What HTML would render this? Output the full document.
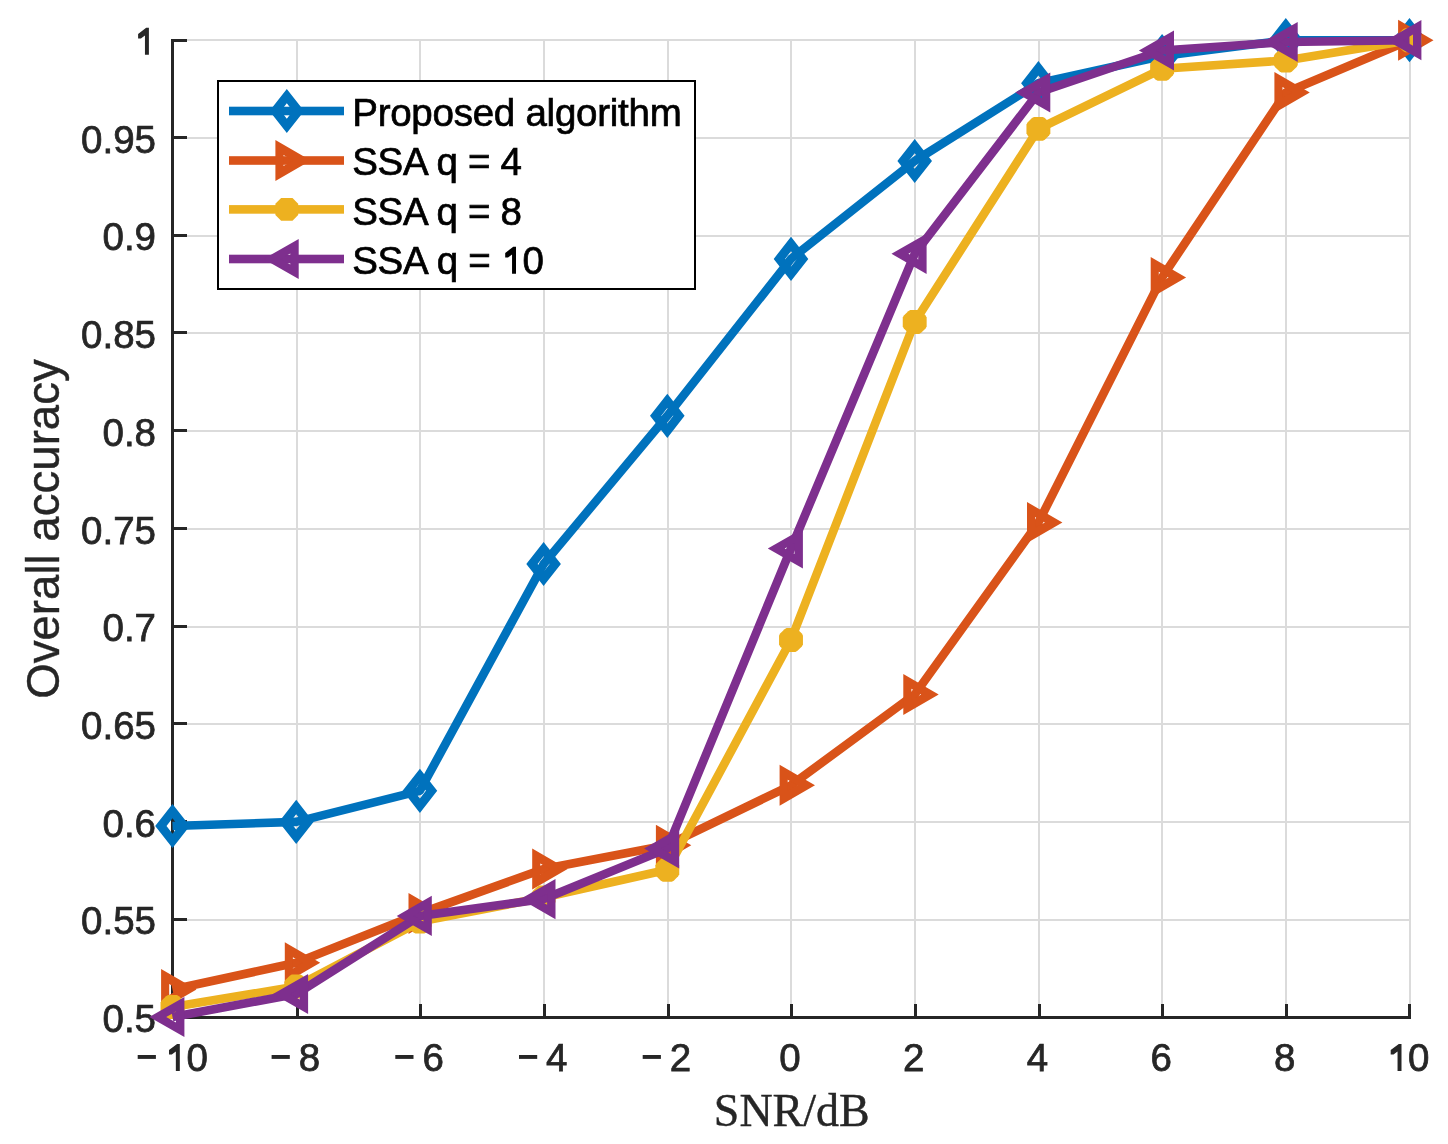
<!DOCTYPE html>
<html><head><meta charset="utf-8"><title>Overall accuracy vs SNR</title>
<style>
html,body{margin:0;padding:0;background:#fff;}
body{width:1448px;height:1144px;overflow:hidden;font-family:"Liberation Sans",sans-serif;}
svg{display:block;will-change:transform;}
</style></head><body>
<svg width="1448" height="1144" viewBox="0 0 1448 1144"><rect x="0" y="0" width="1448" height="1144" fill="#ffffff"/>
<rect x="296" y="39" width="2" height="965" fill="#dbdbdb"/>
<rect x="419" y="39" width="2" height="965" fill="#dbdbdb"/>
<rect x="543" y="39" width="2" height="965" fill="#dbdbdb"/>
<rect x="667" y="39" width="2" height="965" fill="#dbdbdb"/>
<rect x="790" y="39" width="2" height="965" fill="#dbdbdb"/>
<rect x="914" y="39" width="2" height="965" fill="#dbdbdb"/>
<rect x="1038" y="39" width="2" height="965" fill="#dbdbdb"/>
<rect x="1161" y="39" width="2" height="965" fill="#dbdbdb"/>
<rect x="1285" y="39" width="2" height="965" fill="#dbdbdb"/>
<rect x="1409" y="39" width="2" height="965" fill="#dbdbdb"/>
<rect x="174" y="919" width="1237" height="2" fill="#dbdbdb"/>
<rect x="174" y="821" width="1237" height="2" fill="#dbdbdb"/>
<rect x="174" y="723" width="1237" height="2" fill="#dbdbdb"/>
<rect x="174" y="626" width="1237" height="2" fill="#dbdbdb"/>
<rect x="174" y="528" width="1237" height="2" fill="#dbdbdb"/>
<rect x="174" y="430" width="1237" height="2" fill="#dbdbdb"/>
<rect x="174" y="332" width="1237" height="2" fill="#dbdbdb"/>
<rect x="174" y="235" width="1237" height="2" fill="#dbdbdb"/>
<rect x="174" y="137" width="1237" height="2" fill="#dbdbdb"/>
<rect x="174" y="39" width="1237" height="2" fill="#dbdbdb"/>
<rect x="171" y="39" width="3" height="980" fill="#262626"/>
<rect x="171" y="1016" width="1240" height="3" fill="#262626"/>
<rect x="171" y="918" width="16" height="3" fill="#262626"/>
<rect x="171" y="820" width="16" height="3" fill="#262626"/>
<rect x="171" y="722" width="16" height="3" fill="#262626"/>
<rect x="171" y="625" width="16" height="3" fill="#262626"/>
<rect x="171" y="527" width="16" height="3" fill="#262626"/>
<rect x="171" y="429" width="16" height="3" fill="#262626"/>
<rect x="171" y="331" width="16" height="3" fill="#262626"/>
<rect x="171" y="234" width="16" height="3" fill="#262626"/>
<rect x="171" y="136" width="16" height="3" fill="#262626"/>
<rect x="171" y="39" width="16" height="3" fill="#262626"/>
<rect x="296" y="1004" width="3" height="15" fill="#262626"/>
<rect x="419" y="1004" width="3" height="15" fill="#262626"/>
<rect x="543" y="1004" width="3" height="15" fill="#262626"/>
<rect x="667" y="1004" width="3" height="15" fill="#262626"/>
<rect x="790" y="1004" width="3" height="15" fill="#262626"/>
<rect x="914" y="1004" width="3" height="15" fill="#262626"/>
<rect x="1038" y="1004" width="3" height="15" fill="#262626"/>
<rect x="1161" y="1004" width="3" height="15" fill="#262626"/>
<rect x="1285" y="1004" width="3" height="15" fill="#262626"/>
<rect x="1408" y="1004" width="3" height="15" fill="#262626"/>
<text x="156" y="1032" text-anchor="end" font-family="'Liberation Sans', sans-serif" font-size="38.5" fill="#262626" stroke="#262626" stroke-width="0.75">0.5</text>
<text x="156" y="934.3" text-anchor="end" font-family="'Liberation Sans', sans-serif" font-size="38.5" fill="#262626" stroke="#262626" stroke-width="0.75">0.55</text>
<text x="156" y="836.6" text-anchor="end" font-family="'Liberation Sans', sans-serif" font-size="38.5" fill="#262626" stroke="#262626" stroke-width="0.75">0.6</text>
<text x="156" y="738.9" text-anchor="end" font-family="'Liberation Sans', sans-serif" font-size="38.5" fill="#262626" stroke="#262626" stroke-width="0.75">0.65</text>
<text x="156" y="641.2" text-anchor="end" font-family="'Liberation Sans', sans-serif" font-size="38.5" fill="#262626" stroke="#262626" stroke-width="0.75">0.7</text>
<text x="156" y="543.5" text-anchor="end" font-family="'Liberation Sans', sans-serif" font-size="38.5" fill="#262626" stroke="#262626" stroke-width="0.75">0.75</text>
<text x="156" y="445.8" text-anchor="end" font-family="'Liberation Sans', sans-serif" font-size="38.5" fill="#262626" stroke="#262626" stroke-width="0.75">0.8</text>
<text x="156" y="348.1" text-anchor="end" font-family="'Liberation Sans', sans-serif" font-size="38.5" fill="#262626" stroke="#262626" stroke-width="0.75">0.85</text>
<text x="156" y="250.4" text-anchor="end" font-family="'Liberation Sans', sans-serif" font-size="38.5" fill="#262626" stroke="#262626" stroke-width="0.75">0.9</text>
<text x="156" y="152.7" text-anchor="end" font-family="'Liberation Sans', sans-serif" font-size="38.5" fill="#262626" stroke="#262626" stroke-width="0.75">0.95</text>
<path d="M148.9,54.8L148.9,27.8L146.2,27.8L138.1,33.9L138.1,38.4L140.9,38.4L144.95,35.4L144.95,54.8Z" fill="#262626"/>
<rect x="137.7" y="1055.0" width="18.2" height="3.9" fill="#262626"/>
<path d="M179.8,1070.9L179.8,1043.9L177.1,1043.9L169,1050L169,1054.5L171.8,1054.5L175.85,1051.5L175.85,1070.9Z" fill="#262626"/>
<text x="186.4" y="1070.7" text-anchor="start" font-family="'Liberation Sans', sans-serif" font-size="38.5" fill="#262626" stroke="#262626" stroke-width="0.75">0</text>
<rect x="271.6" y="1055.0" width="18.2" height="3.9" fill="#262626"/>
<text x="309.4" y="1070.7" text-anchor="middle" font-family="'Liberation Sans', sans-serif" font-size="38.5" fill="#262626" stroke="#262626" stroke-width="0.75">8</text>
<rect x="395.3" y="1055.0" width="18.2" height="3.9" fill="#262626"/>
<text x="433.1" y="1070.7" text-anchor="middle" font-family="'Liberation Sans', sans-serif" font-size="38.5" fill="#262626" stroke="#262626" stroke-width="0.75">6</text>
<rect x="519" y="1055.0" width="18.2" height="3.9" fill="#262626"/>
<text x="556.8" y="1070.7" text-anchor="middle" font-family="'Liberation Sans', sans-serif" font-size="38.5" fill="#262626" stroke="#262626" stroke-width="0.75">4</text>
<rect x="642.7" y="1055.0" width="18.2" height="3.9" fill="#262626"/>
<text x="680.5" y="1070.7" text-anchor="middle" font-family="'Liberation Sans', sans-serif" font-size="38.5" fill="#262626" stroke="#262626" stroke-width="0.75">2</text>
<text x="790" y="1070.7" text-anchor="middle" font-family="'Liberation Sans', sans-serif" font-size="38.5" fill="#262626" stroke="#262626" stroke-width="0.75">0</text>
<text x="913.7" y="1070.7" text-anchor="middle" font-family="'Liberation Sans', sans-serif" font-size="38.5" fill="#262626" stroke="#262626" stroke-width="0.75">2</text>
<text x="1037.4" y="1070.7" text-anchor="middle" font-family="'Liberation Sans', sans-serif" font-size="38.5" fill="#262626" stroke="#262626" stroke-width="0.75">4</text>
<text x="1161.1" y="1070.7" text-anchor="middle" font-family="'Liberation Sans', sans-serif" font-size="38.5" fill="#262626" stroke="#262626" stroke-width="0.75">6</text>
<text x="1284.8" y="1070.7" text-anchor="middle" font-family="'Liberation Sans', sans-serif" font-size="38.5" fill="#262626" stroke="#262626" stroke-width="0.75">8</text>
<path d="M1401.5,1070.9L1401.5,1043.9L1398.8,1043.9L1390.7,1050L1390.7,1054.5L1393.5,1054.5L1397.55,1051.5L1397.55,1070.9Z" fill="#262626"/>
<text x="1408.1" y="1070.7" text-anchor="start" font-family="'Liberation Sans', sans-serif" font-size="38.5" fill="#262626" stroke="#262626" stroke-width="0.75">0</text>
<text x="791.8" y="1126.4" text-anchor="middle" font-family="'Liberation Serif', serif" font-size="46" fill="#262626" stroke="#262626" stroke-width="0.4">SNR/dB</text>
<g transform="translate(58.8,529) rotate(-90)"><text x="0" y="0" text-anchor="middle" font-family="'Liberation Sans', sans-serif" font-size="45.6" fill="#262626" stroke="#262626" stroke-width="0.4">Overall accuracy</text></g>
<polyline points="172.5,826 296.2,821.9 419.9,790.8 543.6,564 667.3,415.8 791,258.9 914.7,161 1038.4,83.2 1162.1,56 1285.8,40.2 1409.5,40.2" fill="none" stroke="#0072BD" stroke-width="8.6" stroke-linejoin="round"/>
<path d="M172.5,803.9L189.8,826L172.5,848.1L155.2,826ZM172.5,818.3L166.5,826L172.5,833.7L178.5,826Z" fill="#0072BD" fill-rule="evenodd"/>
<path d="M296.2,799.8L313.5,821.9L296.2,844L278.9,821.9ZM296.2,814.2L290.2,821.9L296.2,829.6L302.2,821.9Z" fill="#0072BD" fill-rule="evenodd"/>
<path d="M419.9,768.7L437.2,790.8L419.9,812.9L402.6,790.8ZM419.9,783.1L413.9,790.8L419.9,798.5L425.9,790.8Z" fill="#0072BD" fill-rule="evenodd"/>
<path d="M543.6,541.9L560.9,564L543.6,586.1L526.3,564ZM543.6,556.3L537.6,564L543.6,571.7L549.6,564Z" fill="#0072BD" fill-rule="evenodd"/>
<path d="M667.3,393.7L684.6,415.8L667.3,437.9L650,415.8ZM667.3,408.1L661.3,415.8L667.3,423.5L673.3,415.8Z" fill="#0072BD" fill-rule="evenodd"/>
<path d="M791,236.8L808.3,258.9L791,281L773.7,258.9ZM791,251.2L785,258.9L791,266.6L797,258.9Z" fill="#0072BD" fill-rule="evenodd"/>
<path d="M914.7,138.9L932,161L914.7,183.1L897.4,161ZM914.7,153.3L908.7,161L914.7,168.7L920.7,161Z" fill="#0072BD" fill-rule="evenodd"/>
<path d="M1038.4,61.1L1055.7,83.2L1038.4,105.3L1021.1,83.2ZM1038.4,75.5L1032.4,83.2L1038.4,90.9L1044.4,83.2Z" fill="#0072BD" fill-rule="evenodd"/>
<path d="M1162.1,33.9L1179.4,56L1162.1,78.1L1144.8,56ZM1162.1,48.3L1156.1,56L1162.1,63.7L1168.1,56Z" fill="#0072BD" fill-rule="evenodd"/>
<path d="M1285.8,18.1L1303.1,40.2L1285.8,62.3L1268.5,40.2ZM1285.8,32.5L1279.8,40.2L1285.8,47.9L1291.8,40.2Z" fill="#0072BD" fill-rule="evenodd"/>
<path d="M1409.5,18.1L1426.8,40.2L1409.5,62.3L1392.2,40.2ZM1409.5,32.5L1403.5,40.2L1409.5,47.9L1415.5,40.2Z" fill="#0072BD" fill-rule="evenodd"/>
<polyline points="172.5,989.5 296.2,962.8 419.9,913.4 543.6,869 667.3,845.2 791,785.3 914.7,694.4 1038.4,522.5 1162.1,277.4 1285.8,92.5 1409.5,40.2" fill="none" stroke="#D95319" stroke-width="8.6" stroke-linejoin="round"/>
<path d="M196.5,989.5L161.1,969L161.1,1010ZM179,989.5L169.2,995.1L169.2,983.9Z" fill="#D95319" fill-rule="evenodd"/>
<path d="M320.2,962.8L284.8,942.3L284.8,983.3ZM302.7,962.8L292.9,968.4L292.9,957.2Z" fill="#D95319" fill-rule="evenodd"/>
<path d="M443.9,913.4L408.5,892.9L408.5,933.9ZM426.4,913.4L416.6,919L416.6,907.8Z" fill="#D95319" fill-rule="evenodd"/>
<path d="M567.6,869L532.2,848.5L532.2,889.5ZM550.1,869L540.3,874.6L540.3,863.4Z" fill="#D95319" fill-rule="evenodd"/>
<path d="M691.3,845.2L655.9,824.7L655.9,865.7ZM673.8,845.2L664,850.8L664,839.6Z" fill="#D95319" fill-rule="evenodd"/>
<path d="M815,785.3L779.6,764.8L779.6,805.8ZM797.5,785.3L787.7,790.9L787.7,779.7Z" fill="#D95319" fill-rule="evenodd"/>
<path d="M938.7,694.4L903.3,673.9L903.3,714.9ZM921.2,694.4L911.4,700L911.4,688.8Z" fill="#D95319" fill-rule="evenodd"/>
<path d="M1062.4,522.5L1027,502L1027,543ZM1044.9,522.5L1035.1,528.1L1035.1,516.9Z" fill="#D95319" fill-rule="evenodd"/>
<path d="M1186.1,277.4L1150.7,256.9L1150.7,297.9ZM1168.6,277.4L1158.8,283L1158.8,271.8Z" fill="#D95319" fill-rule="evenodd"/>
<path d="M1309.8,92.5L1274.4,72L1274.4,113ZM1292.3,92.5L1282.5,98.1L1282.5,86.9Z" fill="#D95319" fill-rule="evenodd"/>
<path d="M1433.5,40.2L1398.1,19.7L1398.1,60.7ZM1416,40.2L1406.2,45.8L1406.2,34.6Z" fill="#D95319" fill-rule="evenodd"/>
<polyline points="172.5,1007 296.2,986.5 419.9,921.6 543.6,897.5 667.3,869.8 791,640 914.7,322 1038.4,128.9 1162.1,68.8 1285.8,60.5 1409.5,40.2" fill="none" stroke="#EDB120" stroke-width="8.6" stroke-linejoin="round"/>
<polygon points="176.92,995.05 178.95,996.13 183.37,1000.55 184.45,1002.58 184.45,1011.42 183.37,1013.45 178.95,1017.87 176.92,1018.95 168.08,1018.95 166.05,1017.87 161.63,1013.45 160.55,1011.42 160.55,1002.58 161.63,1000.55 166.05,996.13 168.08,995.05" fill="#EDB120"/>
<polygon points="300.62,974.55 302.65,975.63 307.07,980.05 308.15,982.08 308.15,990.92 307.07,992.95 302.65,997.37 300.62,998.45 291.78,998.45 289.75,997.37 285.33,992.95 284.25,990.92 284.25,982.08 285.33,980.05 289.75,975.63 291.78,974.55" fill="#EDB120"/>
<polygon points="424.32,909.65 426.35,910.73 430.77,915.15 431.85,917.18 431.85,926.02 430.77,928.05 426.35,932.47 424.32,933.55 415.48,933.55 413.45,932.47 409.03,928.05 407.95,926.02 407.95,917.18 409.03,915.15 413.45,910.73 415.48,909.65" fill="#EDB120"/>
<polygon points="548.02,885.55 550.05,886.63 554.47,891.05 555.55,893.08 555.55,901.92 554.47,903.95 550.05,908.37 548.02,909.45 539.18,909.45 537.15,908.37 532.73,903.95 531.65,901.92 531.65,893.08 532.73,891.05 537.15,886.63 539.18,885.55" fill="#EDB120"/>
<polygon points="671.72,857.85 673.75,858.93 678.17,863.35 679.25,865.38 679.25,874.22 678.17,876.25 673.75,880.67 671.72,881.75 662.88,881.75 660.85,880.67 656.43,876.25 655.35,874.22 655.35,865.38 656.43,863.35 660.85,858.93 662.88,857.85" fill="#EDB120"/>
<polygon points="795.42,628.05 797.45,629.13 801.87,633.55 802.95,635.58 802.95,644.42 801.87,646.45 797.45,650.87 795.42,651.95 786.58,651.95 784.55,650.87 780.13,646.45 779.05,644.42 779.05,635.58 780.13,633.55 784.55,629.13 786.58,628.05" fill="#EDB120"/>
<polygon points="919.12,310.05 921.15,311.13 925.57,315.55 926.65,317.58 926.65,326.42 925.57,328.45 921.15,332.87 919.12,333.95 910.28,333.95 908.25,332.87 903.83,328.45 902.75,326.42 902.75,317.58 903.83,315.55 908.25,311.13 910.28,310.05" fill="#EDB120"/>
<polygon points="1042.82,116.95 1044.85,118.03 1049.27,122.45 1050.35,124.48 1050.35,133.32 1049.27,135.35 1044.85,139.77 1042.82,140.85 1033.98,140.85 1031.95,139.77 1027.53,135.35 1026.45,133.32 1026.45,124.48 1027.53,122.45 1031.95,118.03 1033.98,116.95" fill="#EDB120"/>
<polygon points="1166.52,56.85 1168.55,57.93 1172.97,62.35 1174.05,64.38 1174.05,73.22 1172.97,75.25 1168.55,79.67 1166.52,80.75 1157.68,80.75 1155.65,79.67 1151.23,75.25 1150.15,73.22 1150.15,64.38 1151.23,62.35 1155.65,57.93 1157.68,56.85" fill="#EDB120"/>
<polygon points="1290.22,48.55 1292.25,49.63 1296.67,54.05 1297.75,56.08 1297.75,64.92 1296.67,66.95 1292.25,71.37 1290.22,72.45 1281.38,72.45 1279.35,71.37 1274.93,66.95 1273.85,64.92 1273.85,56.08 1274.93,54.05 1279.35,49.63 1281.38,48.55" fill="#EDB120"/>
<polygon points="1413.92,28.25 1415.95,29.33 1420.37,33.75 1421.45,35.78 1421.45,44.62 1420.37,46.65 1415.95,51.07 1413.92,52.15 1405.08,52.15 1403.05,51.07 1398.63,46.65 1397.55,44.62 1397.55,35.78 1398.63,33.75 1403.05,29.33 1405.08,28.25" fill="#EDB120"/>
<polyline points="172.5,1017 296.2,994 419.9,915.9 543.6,899.1 667.3,848.4 791,548.5 914.7,253.8 1038.4,92.5 1162.1,50.5 1285.8,42 1409.5,40.2" fill="none" stroke="#7E2F8E" stroke-width="8.6" stroke-linejoin="round"/>
<path d="M149.3,1017L184.4,996.9L184.4,1037.1ZM166.2,1017L176,1022.6L176,1011.4Z" fill="#7E2F8E" fill-rule="evenodd"/>
<path d="M273,994L308.1,973.9L308.1,1014.1ZM289.9,994L299.7,999.6L299.7,988.4Z" fill="#7E2F8E" fill-rule="evenodd"/>
<path d="M396.7,915.9L431.8,895.8L431.8,936ZM413.6,915.9L423.4,921.5L423.4,910.3Z" fill="#7E2F8E" fill-rule="evenodd"/>
<path d="M520.4,899.1L555.5,879L555.5,919.2ZM537.3,899.1L547.1,904.7L547.1,893.5Z" fill="#7E2F8E" fill-rule="evenodd"/>
<path d="M644.1,848.4L679.2,828.3L679.2,868.5ZM661,848.4L670.8,854L670.8,842.8Z" fill="#7E2F8E" fill-rule="evenodd"/>
<path d="M767.8,548.5L802.9,528.4L802.9,568.6ZM784.7,548.5L794.5,554.1L794.5,542.9Z" fill="#7E2F8E" fill-rule="evenodd"/>
<path d="M891.5,253.8L926.6,233.7L926.6,273.9ZM908.4,253.8L918.2,259.4L918.2,248.2Z" fill="#7E2F8E" fill-rule="evenodd"/>
<path d="M1015.2,92.5L1050.3,72.4L1050.3,112.6ZM1032.1,92.5L1041.9,98.1L1041.9,86.9Z" fill="#7E2F8E" fill-rule="evenodd"/>
<path d="M1138.9,50.5L1174,30.4L1174,70.6ZM1155.8,50.5L1165.6,56.1L1165.6,44.9Z" fill="#7E2F8E" fill-rule="evenodd"/>
<path d="M1262.6,42L1297.7,21.9L1297.7,62.1ZM1279.5,42L1289.3,47.6L1289.3,36.4Z" fill="#7E2F8E" fill-rule="evenodd"/>
<path d="M1386.3,40.2L1421.4,20.1L1421.4,60.3ZM1403.2,40.2L1413,45.8L1413,34.6Z" fill="#7E2F8E" fill-rule="evenodd"/>
<rect x="218" y="81" width="477" height="208" fill="#ffffff" stroke="#000000" stroke-width="2"/>
<rect x="229" y="106.7" width="115" height="8.6" fill="#0072BD"/>
<path d="M286.8,88.9L304.1,111L286.8,133.1L269.5,111ZM286.8,103.3L280.8,111L286.8,118.7L292.8,111Z" fill="#0072BD" fill-rule="evenodd"/>
<text x="352.2" y="126" text-anchor="start" font-family="'Liberation Sans', sans-serif" font-size="38.5" fill="#000000" stroke="#000000" stroke-width="0.7" textLength="329.6" lengthAdjust="spacing">Proposed algorithm</text>
<rect x="229" y="156.2" width="115" height="8.6" fill="#D95319"/>
<path d="M310.8,160.5L275.4,140L275.4,181ZM293.3,160.5L283.5,166.1L283.5,154.9Z" fill="#D95319" fill-rule="evenodd"/>
<text x="352.2" y="175.27" text-anchor="start" font-family="'Liberation Sans', sans-serif" font-size="38.5" fill="#000000" stroke="#000000" stroke-width="0.7" textLength="169.6" lengthAdjust="spacing">SSA q = 4</text>
<rect x="229" y="205.1" width="115" height="8.6" fill="#EDB120"/>
<polygon points="292.5,198 298.2,203.7 298.2,215.1 292.5,220.8 281.1,220.8 275.4,215.1 275.4,203.7 281.1,198" fill="#EDB120"/>
<text x="352.2" y="224.54" text-anchor="start" font-family="'Liberation Sans', sans-serif" font-size="38.5" fill="#000000" stroke="#000000" stroke-width="0.7" textLength="169.6" lengthAdjust="spacing">SSA q = 8</text>
<rect x="229" y="254.7" width="115" height="8.6" fill="#7E2F8E"/>
<path d="M263.6,259L298.7,238.9L298.7,279.1ZM280.5,259L290.3,264.6L290.3,253.4Z" fill="#7E2F8E" fill-rule="evenodd"/>
<text x="352.2" y="273.8" text-anchor="start" font-family="'Liberation Sans', sans-serif" font-size="38.5" fill="#000000" stroke="#000000" stroke-width="0.7" textLength="138.6" lengthAdjust="spacing">SSA q = </text>
<path d="M516,273.8L516,246.8L513.3,246.8L505.2,252.9L505.2,257.4L508,257.4L512.05,254.4L512.05,273.8Z" fill="#000000"/>
<text x="522.4" y="273.8" text-anchor="start" font-family="'Liberation Sans', sans-serif" font-size="38.5" fill="#000000" stroke="#000000" stroke-width="0.7">0</text></svg>
</body></html>
